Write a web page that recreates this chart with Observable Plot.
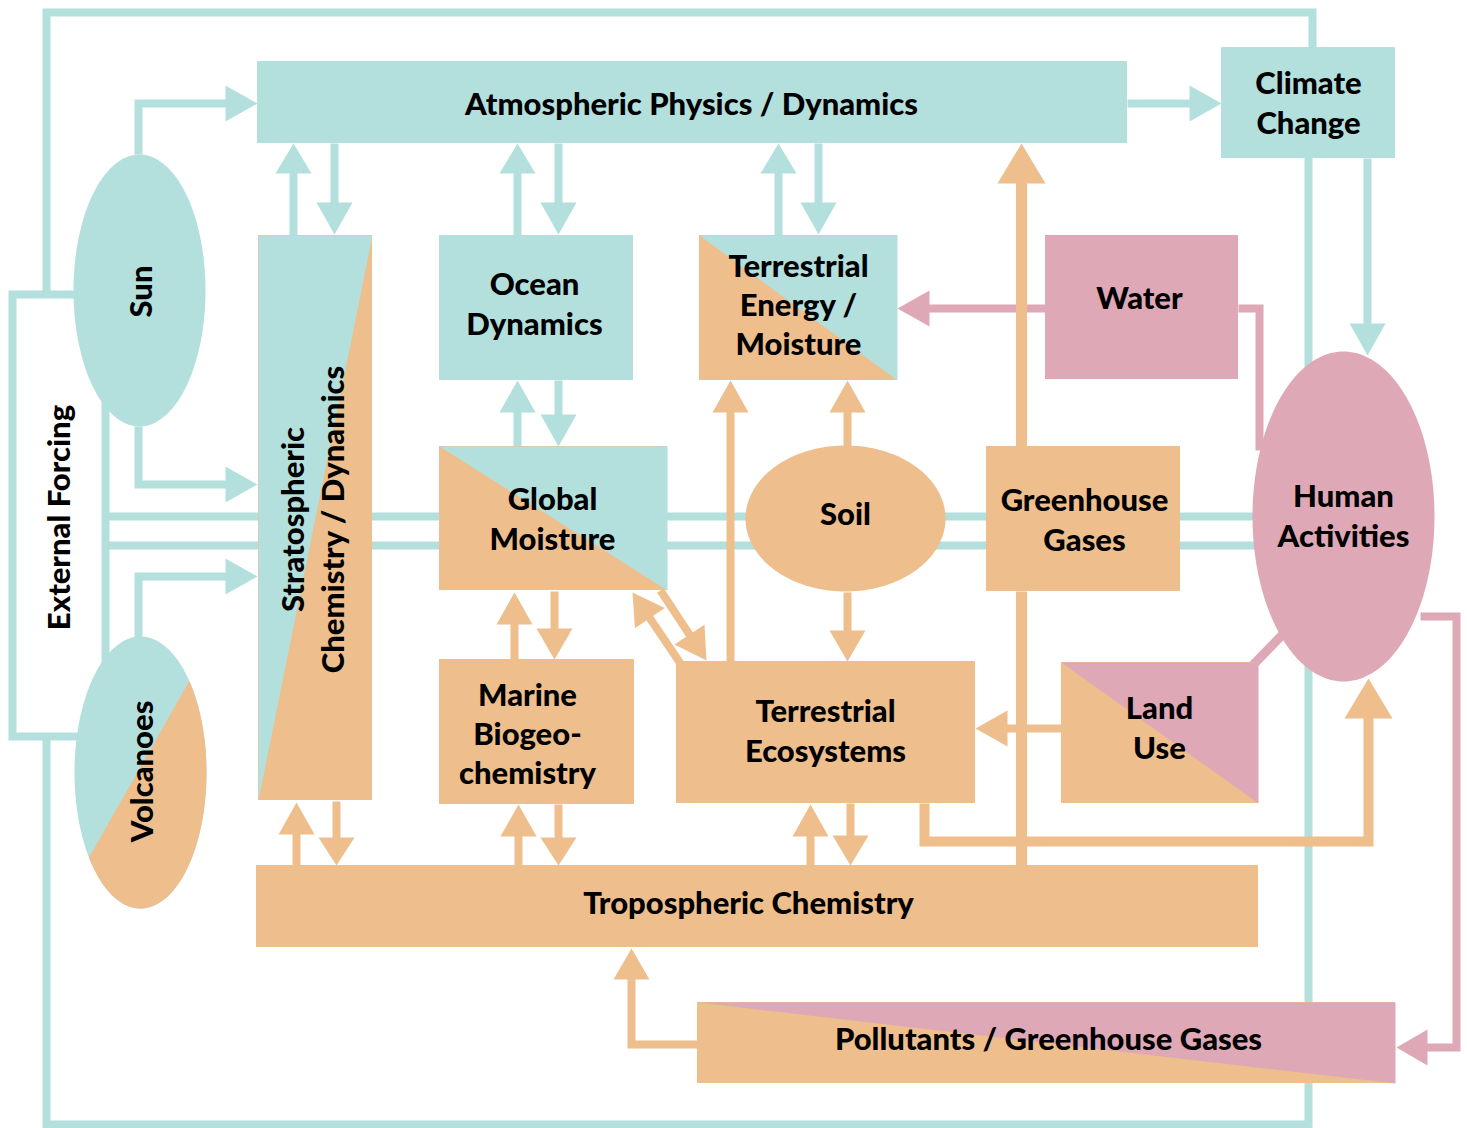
<!DOCTYPE html>
<html><head><meta charset="utf-8">
<script src="https://cdn.jsdelivr.net/npm/d3@7"></script>
<script src="https://cdn.jsdelivr.net/npm/@observablehq/plot@0.6"></script>
<style>html,body{margin:0;padding:0;background:#fff;}</style>
</head><body><div id="chart"></div>
<script>
const TEAL = "#b3dfdd", ORANGE = "#eebe8c", PINK = "#dfa8b6";

// ---- Nodes: rectangles (coordinates in diagram units) ----
const rectNodes = [
  {id: "atmos",       x1: 257,  y1: 61,   x2: 1127, y2: 143,  fill: TEAL},
  {id: "climate",     x1: 1221, y1: 47,   x2: 1395, y2: 158,  fill: TEAL},
  {id: "ocean",       x1: 439,  y1: 235,  x2: 633,  y2: 380,  fill: TEAL},
  {id: "water",       x1: 1045, y1: 235,  x2: 1238, y2: 379,  fill: PINK},
  {id: "ghg",         x1: 986,  y1: 446,  x2: 1180, y2: 591,  fill: ORANGE},
  {id: "marine",      x1: 439,  y1: 659,  x2: 634,  y2: 804,  fill: ORANGE},
  {id: "terrEco",     x1: 676,  y1: 661,  x2: 975,  y2: 803,  fill: ORANGE},
  {id: "tropo",       x1: 256,  y1: 865,  x2: 1258, y2: 947,  fill: ORANGE},
  {id: "strat",       x1: 258,  y1: 235,  x2: 372,  y2: 800,  fill: ORANGE},
  {id: "terrEnergy",  x1: 699,  y1: 235,  x2: 897,  y2: 380,  fill: ORANGE},
  {id: "globalMoist", x1: 439,  y1: 446,  x2: 667,  y2: 590,  fill: ORANGE},
  {id: "landUse",     x1: 1061, y1: 662,  x2: 1258, y2: 803,  fill: ORANGE},
  {id: "pollutants",  x1: 697,  y1: 1002, x2: 1395, y2: 1083, fill: ORANGE}
];

// ---- Two-colour boxes: overlay triangles ----
const triangleOverlays = [
  {id: "stratTop",       fill: TEAL, pts: [[258, 235], [372, 235], [258, 800]]},
  {id: "terrEnergyTop",  fill: TEAL, pts: [[699, 235], [897, 235], [897, 380]]},
  {id: "globalMoistTop", fill: TEAL, pts: [[439, 446], [667, 446], [667, 590]]},
  {id: "landUseTop",     fill: PINK, pts: [[1061, 662], [1258, 662], [1258, 803]]},
  {id: "pollutantsTop",  fill: PINK, pts: [[697, 1002], [1395, 1002], [1395, 1083]]}
];

// ---- Nodes: ellipses ----
const ellipseNodes = [
  {id: "sun",       cx: 139,  cy: 290, rx: 66,  ry: 136, fill: TEAL},
  {id: "volcanoes", cx: 140,  cy: 772, rx: 66,  ry: 136, fill: TEAL},
  {id: "soil",      cx: 845,  cy: 518, rx: 100, ry: 73,  fill: ORANGE},
  {id: "human",     cx: 1343, cy: 516, rx: 91,  ry: 165, fill: PINK}
];
const volcanoSplit = {id: "volcanoes", fill: ORANGE, from: [188, 682], to: [88, 858]};

// ---- Plain connector lines ----
const links = [
  {id: "loopTop",     color: TEAL,   w: 8,  pts: [[1312, 47], [1312, 12], [46, 12], [46, 294]]},
  {id: "forcingBox",  color: TEAL,   w: 8,  pts: [[90, 294], [12, 294], [12, 736], [90, 736]]},
  {id: "loopBottom",  color: TEAL,   w: 8,  pts: [[46, 736], [46, 1124], [1308, 1124], [1308, 157]]},
  {id: "forcingSpine",color: TEAL,   w: 8,  pts: [[105, 380], [105, 680]]},
  {id: "forcingA",    color: TEAL,   w: 8,  pts: [[105, 516], [1300, 516]]},
  {id: "forcingB",    color: TEAL,   w: 8,  pts: [[105, 545], [1300, 545]]},
  {id: "waterHuman",  color: PINK,   w: 8,  pts: [[1238, 308], [1259, 308], [1259, 450]]},
  {id: "landHuman",   color: PINK,   w: 9,  pts: [[1250, 667], [1288, 628]]},
  {id: "ghgTropo",    color: ORANGE, w: 11, pts: [[1021, 591], [1021, 865]]}
];

// ---- Arrows (last point is the tip) ----
const arrows = [
  {id: "sunAtmos",     color: TEAL,   w: 8,  head: [32, 18], pts: [[138, 154], [138, 103], [257, 103]]},
  {id: "sunStrat",     color: TEAL,   w: 8,  head: [32, 18], pts: [[138, 426], [138, 484], [257, 484]]},
  {id: "volcStrat",    color: TEAL,   w: 8,  head: [32, 18], pts: [[138, 637], [138, 576], [257, 576]]},
  {id: "atmosStrat",   color: TEAL,   w: 8,  head: [32, 18], pts: [[334, 143], [334, 234]]},
  {id: "stratAtmos",   color: TEAL,   w: 8,  head: [30, 18], pts: [[293, 235], [293, 143]]},
  {id: "oceanAtmos",   color: TEAL,   w: 8,  head: [30, 18], pts: [[517, 235], [517, 143]]},
  {id: "atmosOcean",   color: TEAL,   w: 8,  head: [32, 18], pts: [[558, 143], [558, 234]]},
  {id: "teAtmos",      color: TEAL,   w: 8,  head: [30, 18], pts: [[778, 235], [778, 143]]},
  {id: "atmosTe",      color: TEAL,   w: 8,  head: [32, 18], pts: [[818, 143], [818, 234]]},
  {id: "atmosClimate", color: TEAL,   w: 8,  head: [32, 18], pts: [[1127, 103], [1221, 103]]},
  {id: "climateHuman", color: TEAL,   w: 8,  head: [32, 18], pts: [[1367, 158], [1367, 355]]},
  {id: "gmOcean",      color: TEAL,   w: 8,  head: [32, 18], pts: [[517, 446], [517, 380]]},
  {id: "oceanGm",      color: TEAL,   w: 8,  head: [32, 18], pts: [[558, 380], [558, 446]]},
  {id: "waterTe",      color: PINK,   w: 8,  head: [32, 18], pts: [[1045, 308], [897, 308]]},
  {id: "humanPoll",    color: PINK,   w: 8,  head: [31, 18], pts: [[1420, 616], [1456, 616], [1456, 1047], [1396, 1047]]},
  {id: "gmMarine",     color: ORANGE, w: 8,  head: [31, 18], pts: [[554, 591], [554, 659]]},
  {id: "marineGm",     color: ORANGE, w: 8,  head: [32, 18], pts: [[514, 659], [514, 592]]},
  {id: "marineTropo",  color: ORANGE, w: 8,  head: [28, 18], pts: [[558, 804], [558, 865]]},
  {id: "tropoMarine",  color: ORANGE, w: 8,  head: [32, 18], pts: [[518, 865], [518, 804]]},
  {id: "stratTropo",   color: ORANGE, w: 8,  head: [28, 18], pts: [[336, 801], [336, 865]]},
  {id: "tropoStrat",   color: ORANGE, w: 8,  head: [32, 18], pts: [[296, 865], [296, 802]]},
  {id: "ecoTropo",     color: ORANGE, w: 8,  head: [30, 18], pts: [[850, 803], [850, 865]]},
  {id: "tropoEco",     color: ORANGE, w: 8,  head: [32, 18], pts: [[810, 865], [810, 804]]},
  {id: "soilTe",       color: ORANGE, w: 8,  head: [32, 18], pts: [[847, 446], [847, 380]]},
  {id: "soilEco",      color: ORANGE, w: 8,  head: [31, 18], pts: [[847, 592], [847, 661]]},
  {id: "ecoTe",        color: ORANGE, w: 8,  head: [32, 18], pts: [[730, 661], [730, 380]]},
  {id: "ecoGm",        color: ORANGE, w: 8,  head: [31, 18], pts: [[680, 663], [632, 592]]},
  {id: "gmEco",        color: ORANGE, w: 8,  head: [31, 18], pts: [[660, 590], [706, 660]]},
  {id: "landEco",      color: ORANGE, w: 8,  head: [32, 18], pts: [[1061, 728], [975, 728]]},
  {id: "pollTropo",    color: ORANGE, w: 8,  head: [31, 18], pts: [[697, 1044], [631, 1044], [631, 948]]},
  {id: "ghgAtmos",     color: ORANGE, w: 11, head: [40, 24], pts: [[1021, 446], [1021, 143]]},
  {id: "ecoHuman",     color: ORANGE, w: 10, head: [40, 24], pts: [[924, 803], [924, 841], [1368, 841], [1368, 678]]}
];

// ---- Labels ----
const labels = [
  {text: "Atmospheric Physics / Dynamics", x: 691,  y: 102, rotate: 0},
  {text: "Climate\nChange",                x: 1308, y: 101, rotate: 0},
  {text: "Sun",                            x: 139,  y: 291, rotate: -90},
  {text: "External Forcing",               x: 57,   y: 517, rotate: -90},
  {text: "Volcanoes",                      x: 140,  y: 771, rotate: -90},
  {text: "Stratospheric\nChemistry / Dynamics", x: 311, y: 519, rotate: -90},
  {text: "Ocean\nDynamics",                x: 534,  y: 302, rotate: 0},
  {text: "Terrestrial\nEnergy /\nMoisture", x: 798, y: 303, rotate: 0},
  {text: "Water",                          x: 1139, y: 296, rotate: 0},
  {text: "Global\nMoisture",               x: 552,  y: 517, rotate: 0},
  {text: "Soil",                           x: 845,  y: 512, rotate: 0},
  {text: "Greenhouse\nGases",              x: 1084, y: 518, rotate: 0},
  {text: "Human\nActivities",              x: 1343, y: 514, rotate: 0},
  {text: "Marine\nBiogeo-\nchemistry",     x: 527,  y: 732, rotate: 0},
  {text: "Terrestrial\nEcosystems",        x: 825,  y: 729, rotate: 0},
  {text: "Land\nUse",                      x: 1159, y: 726, rotate: 0},
  {text: "Tropospheric Chemistry",         x: 748,  y: 901, rotate: 0},
  {text: "Pollutants / Greenhouse Gases",  x: 1048, y: 1037, rotate: 0}
];

// ---- geometry helpers ----
function ellipsePoly(e, n = 180) {
  const pts = [];
  for (let i = 0; i < n; i++) {
    const t = 2 * Math.PI * i / n;
    pts.push([e.cx + e.rx * Math.cos(t), e.cy + e.ry * Math.sin(t)]);
  }
  return pts;
}
function clipHalfPlane(poly, a, b) {
  const side = p => (b[0] - a[0]) * (p[1] - a[1]) - (b[1] - a[1]) * (p[0] - a[0]);
  const out = [];
  for (let i = 0; i < poly.length; i++) {
    const p = poly[i], q = poly[(i + 1) % poly.length];
    const sp = side(p), sq = side(q);
    if (sp <= 0) out.push(p);
    if ((sp < 0 && sq > 0) || (sp > 0 && sq < 0)) {
      const t = sp / (sp - sq);
      out.push([p[0] + t * (q[0] - p[0]), p[1] + t * (q[1] - p[1])]);
    }
  }
  return out;
}
const toRows = (id, pts, extra) => pts.map(([x, y]) => ({id, x, y, ...extra}));

const linkRows = links.flatMap(l => toRows(l.id, l.pts, {color: l.color, w: l.w}));

const shaftRows = [], headRows = [];
for (const a of arrows) {
  const pts = a.pts.map(p => p.slice());
  const tip = pts[pts.length - 1], prev = pts[pts.length - 2];
  const dx = tip[0] - prev[0], dy = tip[1] - prev[1], len = Math.hypot(dx, dy);
  const ux = dx / len, uy = dy / len;
  const [L, W] = a.head;
  const base = [tip[0] - L * ux, tip[1] - L * uy];
  const shaft = pts.slice(0, -1).concat([[tip[0] - (L - 3) * ux, tip[1] - (L - 3) * uy]]);
  shaftRows.push(...toRows(a.id, shaft, {color: a.color, w: a.w}));
  headRows.push(...toRows(a.id + "-head", [
    tip,
    [base[0] - W * uy, base[1] + W * ux],
    [base[0] + W * uy, base[1] - W * ux]
  ], {fill: a.color}));
}

const ellipseRows = ellipseNodes.flatMap(e => toRows(e.id, ellipsePoly(e), {fill: e.fill}));
const volcanoE = ellipseNodes.find(e => e.id === volcanoSplit.id);
const volcanoRows = toRows("volcanoLower", clipHalfPlane(ellipsePoly(volcanoE, 360), volcanoSplit.from, volcanoSplit.to), {fill: volcanoSplit.fill});
const triRows = triangleOverlays.flatMap(t => toRows(t.id, t.pts, {fill: t.fill}));

const lineOpts = {x: "x", y: "y", z: "id", stroke: "color", strokeWidth: "w",
  strokeLinecap: "butt", strokeLinejoin: "miter", strokeMiterlimit: 4, curve: "linear"};
const polyOpts = {x: "x", y: "y", z: "id", fill: "fill", stroke: "none", curve: "linear-closed"};

const chart = Plot.plot({
  width: 1467, height: 1128,
  margin: 0, marginTop: 0, marginRight: 0, marginBottom: 0, marginLeft: 0,
  x: {domain: [0, 1467], range: [0, 1467], axis: null},
  y: {domain: [0, 1128], range: [0, 1128], axis: null},
  color: {type: "identity"},
  style: {background: "#fff"},
  marks: [
    Plot.line(linkRows, lineOpts),
    Plot.line(shaftRows, lineOpts),
    Plot.rect(rectNodes, {x1: "x1", y1: "y1", x2: "x2", y2: "y2", fill: "fill"}),
    Plot.line(triRows, polyOpts),
    Plot.line(ellipseRows, polyOpts),
    Plot.line(volcanoRows, polyOpts),
    Plot.line(headRows, polyOpts),
    Plot.text(labels, {x: "x", y: "y", text: "text", rotate: "rotate",
      fontSize: 31, fontWeight: 900, fontFamily: "Lato, sans-serif",
      lineHeight: 1.26, textAnchor: "middle", lineAnchor: "middle", fill: "#000"})
  ]
});
document.getElementById("chart").appendChild(chart);
</script>
</body></html>
